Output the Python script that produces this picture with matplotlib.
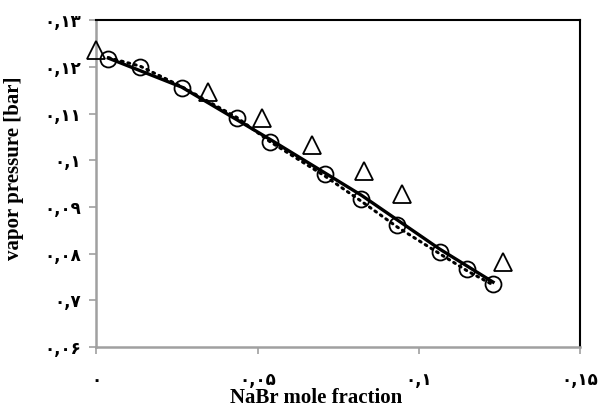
import matplotlib
matplotlib.use("Agg")
import matplotlib.pyplot as plt

# points expérimentaux (cercles) et autre modèle (triangles)
x_exp = [0.0037, 0.0135, 0.0264, 0.0435, 0.0538, 0.0709, 0.0822, 0.0933, 0.1064, 0.1150, 0.1230]
y_exp = [0.1217, 0.1200, 0.1155, 0.1090, 0.1040, 0.0971, 0.0918, 0.0862, 0.0804, 0.0767, 0.0734]

x_tri = [0.0000, 0.0347, 0.0513, 0.0668, 0.0830, 0.0947, 0.1262]
y_tri = [0.1237, 0.1147, 0.1090, 0.1033, 0.0978, 0.0928, 0.0783]

# courbe du modèle (trait plein)
x_model = [0.0037, 0.0264, 0.0538, 0.0822, 0.1064, 0.1230]
y_model = [0.1219, 0.1157, 0.1045, 0.0925, 0.0810, 0.0739]

# courbe en pointillés
x_dot = [0.0037, 0.0135, 0.0264, 0.0435, 0.0538, 0.0709, 0.0822, 0.0933, 0.1064, 0.1150, 0.1230]
y_dot = [0.1220, 0.1202, 0.1158, 0.1092, 0.1040, 0.0966, 0.0912, 0.0857, 0.0800, 0.0763, 0.0733]

x_ticks = [0, 0.05, 0.1, 0.15]
x_ticklabels = ["۰", "۰,۰۵", "۰,۱", "۰,۱۵"]
y_ticks = [0.06, 0.07, 0.08, 0.09, 0.10, 0.11, 0.12, 0.13]
y_ticklabels = ["۰,۰۶", "۰,۷", "۰,۰۸", "۰,۰۹", "۰,۱", "۰,۱۱", "۰,۱۲", "۰,۱۳"]

fig = plt.figure(figsize=(6.03, 4.15), dpi=100)
ax = fig.add_axes([0.160, 0.164, 0.802, 0.787])

ax.plot(x_model, y_model, color="black", lw=2.4, zorder=3)
ax.plot(x_dot, y_dot, color="black", lw=2.2, linestyle=(0, (0.6, 1.6)),
        dash_capstyle="round", zorder=3)
ax.plot(x_exp, y_exp, "o", mfc="none", mec="black", mew=1.3, ms=11.5, zorder=4)
ax.plot(x_tri, y_tri, "^", mfc="none", mec="black", mew=1.3, ms=12.5, zorder=4,
        clip_on=False)

ax.set_xlim(0, 0.15)
ax.set_ylim(0.06, 0.13)
ax.set_xticks(x_ticks)
ax.set_yticks(y_ticks)
tick_font = dict(family=["DejaVu Sans"], weight="bold", size=12)
ax.set_xticklabels(x_ticklabels, **tick_font)
ax.set_yticklabels(y_ticklabels, **tick_font)
ax.tick_params(axis="both", colors="#a0a0a0", length=5, width=1.2, direction="out")
ax.tick_params(axis="x", labelcolor="black", pad=12)
ax.tick_params(axis="y", labelcolor="black", pad=6)

for side in ["top", "right"]:
    ax.spines[side].set_color("black")
    ax.spines[side].set_linewidth(1.5)
for side in ["left", "bottom"]:
    ax.spines[side].set_color("#a0a0a0")
    ax.spines[side].set_linewidth(1.8)

label_font = dict(family=["Liberation Serif"], weight="bold", size=15)
ax.set_xlabel("NaBr mole fraction", **label_font)
ax.set_ylabel("vapor pressure [bar]", **label_font)
ax.xaxis.set_label_coords(0.454, -0.125)
ax.yaxis.set_label_coords(-0.150, 0.548)

fig.savefig("out.png", dpi=100)
